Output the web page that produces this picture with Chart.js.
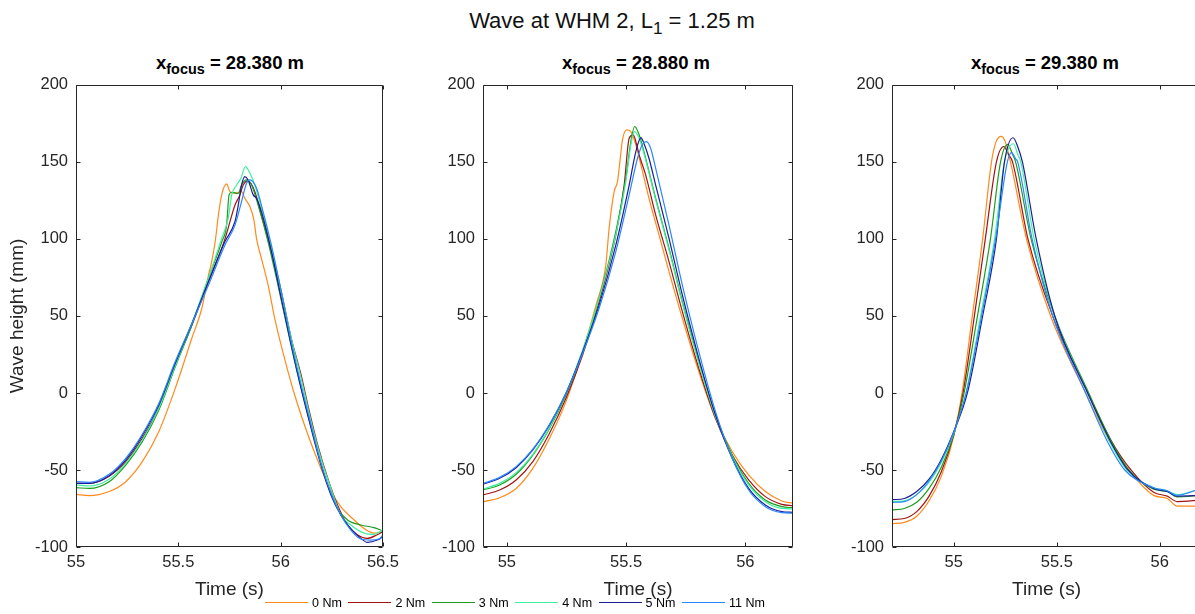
<!DOCTYPE html>
<html>
<head>
<meta charset="utf-8">
<script src="https://cdn.jsdelivr.net/npm/chart.js@4.4.0/dist/chart.umd.min.js"></script>
<style>
  body { margin: 0; width: 1195px; height: 614px; overflow: hidden; background: #fff; position: relative;
         font-family: "Liberation Sans", Arial, sans-serif; color: #000; }
  .panel { position: absolute; top: 67px; height: 547px; }
  .panel canvas { display: block; }
  #suptitle { position: absolute; left: 412px; width: 400px; top: 10px; line-height: 22px; font-size: 22px; text-align: center; white-space: nowrap; color: #111; }
  .subtitle { position: absolute; width: 300px; top: 54px; line-height: 18px; font-size: 18.5px; font-weight: bold; text-align: center; white-space: nowrap; }
  sub { font-size: 0.78em; vertical-align: -0.35em; line-height: 0; }
  .leg { position: absolute; top: 596px; height: 14px; font-size: 12.5px; line-height: 14px; white-space: nowrap; color: #000; }
  .leg span.ln { position: absolute; left: 0; top: 6px; width: 43px; height: 0; border-top: 1.3px solid; }
  .leg span.tx { position: absolute; left: 47px; top: 0; }
</style>
</head>
<body>
<div id="suptitle">Wave at WHM 2, L<sub>1</sub> = 1.25 m</div>
<div class="subtitle" style="left:80px">x<sub>focus</sub> = 28.380 m</div>
<div class="subtitle" style="left:486px">x<sub>focus</sub> = 28.880 m</div>
<div class="subtitle" style="left:895px">x<sub>focus</sub> = 29.380 m</div>

<div class="panel" style="left:0px;width:405px"><canvas id="c1" width="405" height="547"></canvas></div>
<div class="panel" style="left:407px;width:406px"><canvas id="c2" width="406" height="547"></canvas></div>
<div class="panel" style="left:816px;width:405px"><canvas id="c3" width="405" height="547"></canvas></div>

<div id="legend"></div>

<script>
// series
const seriesNames = ['0 Nm', '2 Nm', '3 Nm', '4 Nm', '5 Nm', '11 Nm'];
const seriesColors = ['#ff8a1c', '#a01414', '#1c9c1c', '#3ff0a0', '#1c1c96', '#2a86ff'];

// axes
const yTicks = [-100, -50, 0, 50, 100, 150, 200];
const xTicks1 = [55, 55.5, 56, 56.5];
const xTicks2 = [55, 55.5, 56];
const xTicks3 = [55, 55.5, 56];
const xRange1 = [55, 56.5];
const xRange2 = [54.9, 56.2];
const xRange3 = [54.7, 56.2];

// x_focus = 28.380 m  ([time s, height mm])
const p1_0Nm = [[55.000,-65.8],[55.065,-66.7],[55.162,-64],[55.243,-57.6],[55.324,-44.6],[55.405,-25],[55.485,3],[55.566,35.5],[55.615,55],[55.650,78],[55.658,82],[55.680,98],[55.696,115.6],[55.712,128.6],[55.736,135.7],[55.752,130.7],[55.777,129.6],[55.809,130.7],[55.825,126.4],[55.850,121],[55.870,112],[55.882,100.4],[55.906,87.4],[55.939,70],[55.971,48.5],[56.019,22.5],[56.068,-1],[56.133,-27],[56.197,-49],[56.246,-64],[56.294,-73.8],[56.359,-82.5],[56.408,-88],[56.456,-91],[56.5,-90]];
const p1_2Nm = [[55.000,-58.7],[55.065,-58.7],[55.162,-54],[55.243,-44.6],[55.324,-29.4],[55.405,-10],[55.485,18],[55.566,44],[55.647,72],[55.728,100],[55.777,122],[55.801,128.6],[55.817,135],[55.841,137.7],[55.874,130.7],[55.906,115.6],[55.955,92],[56.003,66],[56.052,35.5],[56.100,11.7],[56.133,-7.8],[56.181,-33.8],[56.230,-55.4],[56.278,-72.7],[56.327,-85.7],[56.375,-92],[56.424,-94.4],[56.472,-92],[56.5,-90]];
const p1_3Nm = [[55.000,-61.5],[55.065,-62],[55.162,-57.6],[55.243,-46.8],[55.324,-31.6],[55.405,-11],[55.485,17],[55.566,44],[55.647,74.5],[55.712,98],[55.736,109],[55.748,128.6],[55.761,130.3],[55.793,129.6],[55.809,135],[55.833,138.3],[55.858,135],[55.890,122],[55.939,98],[55.987,70],[56.036,40],[56.084,11.7],[56.133,-14],[56.181,-38],[56.230,-59.7],[56.278,-75],[56.327,-82.5],[56.392,-85.7],[56.456,-87.4],[56.5,-89.6]];
const p1_4Nm = [[55.000,-59.7],[55.065,-60.4],[55.162,-56],[55.243,-45.7],[55.324,-30.5],[55.405,-10],[55.485,17.7],[55.566,45],[55.647,74.5],[55.712,100.4],[55.744,113.4],[55.761,128.6],[55.785,135],[55.806,139.4],[55.828,147],[55.850,142.6],[55.874,135],[55.906,120],[55.955,94],[56.003,66],[56.052,35.5],[56.100,9.7],[56.149,-18.6],[56.197,-42.4],[56.246,-62],[56.294,-79.2],[56.343,-85.7],[56.408,-91],[56.456,-91.8],[56.5,-89]];
const p1_5Nm = [[55.000,-58.7],[55.065,-58.7],[55.162,-53.7],[55.243,-43.5],[55.324,-27.7],[55.405,-7.8],[55.485,19.3],[55.566,45],[55.647,72.3],[55.728,98.3],[55.777,111.3],[55.793,122],[55.809,135],[55.825,140.5],[55.841,138.3],[55.866,128.6],[55.882,126.4],[55.906,117.7],[55.955,92],[56.003,61.5],[56.052,31],[56.100,3],[56.149,-23],[56.197,-46.8],[56.246,-66.2],[56.294,-79.2],[56.343,-88],[56.392,-94.4],[56.424,-97],[56.472,-95.5],[56.5,-93.3]];
const p1_11Nm = [[55.000,-57.6],[55.065,-58],[55.162,-52.8],[55.243,-42.4],[55.324,-26.8],[55.405,-6.7],[55.485,20.4],[55.566,45],[55.647,70],[55.728,96],[55.777,109],[55.809,124.2],[55.833,136],[55.850,138.3],[55.882,133],[55.906,122],[55.955,96],[56.003,66],[56.052,33.3],[56.100,5.4],[56.149,-20.8],[56.197,-45.7],[56.246,-65],[56.294,-79.2],[56.343,-89],[56.392,-94.8],[56.440,-95.5],[56.481,-94.8],[56.5,-92.2]];

// x_focus = 28.880 m
const p2_0Nm = [[54.900,-70.6],[54.970,-68],[55.039,-62],[55.109,-49],[55.179,-29.4],[55.248,-5.6],[55.318,26.8],[55.374,57],[55.415,83],[55.429,107],[55.450,130.7],[55.464,137.2],[55.471,145.9],[55.485,164.3],[55.502,170.8],[55.520,169.7],[55.541,161],[55.569,143.7],[55.596,126.4],[55.638,102.6],[55.680,78.8],[55.736,48.5],[55.805,13.9],[55.875,-16.5],[55.945,-38],[56.014,-53.2],[56.084,-64],[56.153,-70.1],[56.2,-71.6]];
const p2_2Nm = [[54.900,-66.2],[54.970,-63],[55.039,-56.5],[55.109,-44.6],[55.179,-26.2],[55.248,-3.5],[55.318,24.7],[55.387,59.3],[55.457,102.6],[55.492,135],[55.513,165.4],[55.530,167.5],[55.548,158.9],[55.555,154.5],[55.582,141.6],[55.624,115.6],[55.680,85.3],[55.736,52.8],[55.805,16],[55.875,-16.5],[55.945,-40.3],[56.014,-56.5],[56.084,-67.3],[56.153,-72.3],[56.2,-73.2]];
const p2_3Nm = [[54.900,-63],[54.970,-59.7],[55.039,-52.8],[55.109,-40.3],[55.179,-23],[55.248,-1.3],[55.318,26.8],[55.387,61.5],[55.457,104.8],[55.499,139.4],[55.520,163.2],[55.536,173],[55.555,167.5],[55.582,152.4],[55.624,126.4],[55.680,94],[55.736,59.3],[55.805,20.4],[55.875,-14.3],[55.945,-40.3],[56.014,-58.7],[56.084,-69.5],[56.153,-73.8],[56.2,-74.5]];
const p2_4Nm = [[54.900,-62.3],[54.970,-58.7],[55.039,-51.7],[55.109,-39.8],[55.179,-22.5],[55.248,-0.2],[55.318,27.9],[55.387,61.5],[55.457,102.6],[55.499,137.2],[55.520,161],[55.534,169.7],[55.555,165.4],[55.582,151.3],[55.624,125.3],[55.680,92.9],[55.736,58.2],[55.805,19.3],[55.875,-15.4],[55.945,-41.3],[56.014,-59.7],[56.084,-70.6],[56.153,-74.9],[56.2,-75.3]];
const p2_5Nm = [[54.900,-59.3],[54.970,-55.4],[55.039,-48.5],[55.109,-37],[55.179,-20.8],[55.248,-0.2],[55.318,26.8],[55.387,57],[55.457,96],[55.513,135],[55.541,156.7],[55.562,165.8],[55.575,162],[55.596,152.4],[55.624,135],[55.680,100.4],[55.736,63.6],[55.805,22.5],[55.875,-14.3],[55.945,-42.4],[56.014,-61.9],[56.084,-72.7],[56.153,-77],[56.2,-77.5]];
const p2_11Nm = [[54.900,-58.7],[54.970,-54.8],[55.039,-47.8],[55.109,-36.4],[55.179,-20.3],[55.248,-0.2],[55.318,25.8],[55.387,55],[55.457,91.8],[55.513,128.6],[55.548,152.4],[55.569,161.5],[55.585,163.2],[55.603,158.9],[55.624,145.9],[55.680,109],[55.736,70],[55.805,26.8],[55.875,-12.1],[55.945,-42.4],[56.014,-63],[56.084,-73.8],[56.153,-77.7],[56.2,-78.1]];

// x_focus = 29.380 m
const p3_0Nm = [[54.70,-84.8],[54.76,-84],[54.82,-80],[54.88,-70],[54.94,-54],[55.00,-28],[55.04,0],[55.09,50],[55.14,100],[55.183,150],[55.205,163],[55.23,166.6],[55.25,163],[55.275,150],[55.353,100],[55.47,50],[55.64,0],[55.75,-30],[55.85,-50],[55.97,-66.5],[56.036,-68.5],[56.084,-73.5],[56.2,-73.5]];
const p3_2Nm = [[54.70,-82.2],[54.76,-81.5],[54.82,-77],[54.88,-67],[54.94,-51],[55.00,-27],[55.045,0],[55.10,50],[55.153,100],[55.207,150],[55.243,160],[55.265,155],[55.285,150],[55.36,100],[55.48,50],[55.65,0],[55.76,-30],[55.86,-50],[55.97,-64.5],[56.036,-67],[56.084,-70.5],[56.2,-69.5]];
const p3_3Nm = [[54.70,-75.9],[54.76,-75],[54.82,-71],[54.88,-62],[54.94,-48],[55.00,-27],[55.05,0],[55.115,50],[55.178,100],[55.227,150],[55.262,161.4],[55.285,155],[55.30,150],[55.375,100],[55.49,50],[55.655,0],[55.76,-30],[55.85,-50],[55.97,-62.5],[56.036,-64],[56.084,-67.5],[56.2,-66.5]];
const p3_4Nm = [[54.70,-70.5],[54.76,-70],[54.82,-66],[54.88,-58],[54.94,-45],[55.00,-26],[55.06,0],[55.13,50],[55.198,100],[55.246,150],[55.29,161.8],[55.31,155],[55.325,150],[55.39,100],[55.49,50],[55.65,0],[55.75,-30],[55.84,-50],[55.97,-61.5],[56.036,-63.5],[56.084,-66],[56.2,-62]];
const p3_5Nm = [[54.70,-69.3],[54.76,-68.5],[54.82,-64],[54.88,-56],[54.94,-43],[55.00,-25],[55.066,0],[55.14,50],[55.207,100],[55.246,150],[55.288,165.7],[55.31,160],[55.333,150],[55.40,100],[55.49,50],[55.65,0],[55.755,-30],[55.845,-50],[55.97,-62],[56.036,-64],[56.084,-67],[56.2,-66.5]];
const p3_11Nm = [[54.70,-71],[54.76,-70.5],[54.82,-66],[54.88,-57],[54.94,-44],[55.00,-25.5],[55.06,0],[55.135,50],[55.203,100],[55.26,150],[55.28,156],[55.30,152],[55.31,150],[55.38,100],[55.48,50],[55.64,0],[55.74,-30],[55.83,-50],[55.97,-61.5],[56.036,-63.5],[56.084,-66.5],[56.2,-62]];

const panel1 = [p1_0Nm, p1_2Nm, p1_3Nm, p1_4Nm, p1_5Nm, p1_11Nm];
const panel2 = [p2_0Nm, p2_2Nm, p2_3Nm, p2_4Nm, p2_5Nm, p2_11Nm];
const panel3 = [p3_0Nm, p3_2Nm, p3_3Nm, p3_4Nm, p3_5Nm, p3_11Nm];

const FONT = '"Liberation Sans", Arial, sans-serif';
const AXIS = '#262626';

// matlab style box with inward ticks
const boxPlugin = {
  id: 'matlabBox',
  afterDraw(chart) {
    const { ctx, chartArea: a, scales: { x, y } } = chart;
    const L = Math.round(a.left) + 0.5, R = Math.round(a.right) - 0.5;
    const T = Math.round(a.top) + 0.5, B = Math.round(a.bottom) - 0.5;
    ctx.save();
    ctx.strokeStyle = AXIS;
    ctx.lineWidth = 1;
    ctx.beginPath();
    ctx.rect(L, T, R - L, B - T);
    x.ticks.forEach(t => {
      const px = Math.round(x.getPixelForValue(t.value)) + 0.5;
      ctx.moveTo(px, B); ctx.lineTo(px, B - 4);
      ctx.moveTo(px, T); ctx.lineTo(px, T + 4);
    });
    y.ticks.forEach(t => {
      const py = Math.round(y.getPixelForValue(t.value)) + 0.5;
      ctx.moveTo(L, py); ctx.lineTo(L + 4, py);
      ctx.moveTo(R, py); ctx.lineTo(R - 4, py);
    });
    ctx.stroke();
    ctx.restore();
  }
};

function makePanel(id, series, xRange, xTicks, showYTitle) {
  const datasets = series.map((pts, i) => ({
    label: seriesNames[i],
    data: pts.map(p => ({ x: p[0], y: p[1] })),
    borderColor: seriesColors[i],
    borderWidth: 1.2,
    pointRadius: 0,
    cubicInterpolationMode: 'monotone',
    order: series.length - 1 - i
  }));

  new Chart(document.getElementById(id), {
    type: 'line',
    data: { datasets },
    options: {
      responsive: false,
      animation: false,
      devicePixelRatio: 1,
      layout: { padding: { left: 0, top: 10, right: 20, bottom: 0 } },
      plugins: { legend: { display: false }, tooltip: { enabled: false } },
      scales: {
        x: {
          type: 'linear',
          min: xRange[0],
          max: xRange[1],
          afterBuildTicks: s => { s.ticks = xTicks.map(v => ({ value: v })); },
          afterFit: s => { s.height = 67; },
          grid: { display: false, drawTicks: false },
          border: { display: false },
          ticks: { color: AXIS, padding: 6, maxRotation: 0, autoSkip: false,
                   font: { family: FONT, size: 16.5 }, callback: v => String(v) },
          title: { display: true, text: 'Time (s)', color: AXIS,
                   font: { family: FONT, size: 19, lineHeight: 1.2 }, padding: { top: 0, bottom: 13 } }
        },
        y: {
          min: -100,
          max: 200,
          afterBuildTicks: s => { s.ticks = yTicks.map(v => ({ value: v })); },
          afterFit: s => { s.width = 76; },
          grid: { display: false, drawTicks: false },
          border: { display: false },
          ticks: { color: AXIS, padding: 8, font: { family: FONT, size: 16.5 }, callback: v => String(v) },
          title: { display: showYTitle, text: 'Wave height (mm)', color: AXIS,
                   font: { family: FONT, size: 19, lineHeight: 1.2 }, padding: { top: 6, bottom: 0 } }
        }
      }
    },
    plugins: [boxPlugin]
  });
}

makePanel('c1', panel1, xRange1, xTicks1, true);
makePanel('c2', panel2, xRange2, xTicks2, false);
makePanel('c3', panel3, xRange3, xTicks3, false);

// shared legend under the panels
const legend = document.getElementById('legend');
seriesNames.forEach((name, i) => {
  const item = document.createElement('div');
  item.className = 'leg';
  item.style.left = (265 + i * 83.4) + 'px';
  item.innerHTML = '<span class="ln" style="border-color:' + seriesColors[i] + '"></span><span class="tx">' + name + '</span>';
  legend.appendChild(item);
});
</script>
</body>
</html>
